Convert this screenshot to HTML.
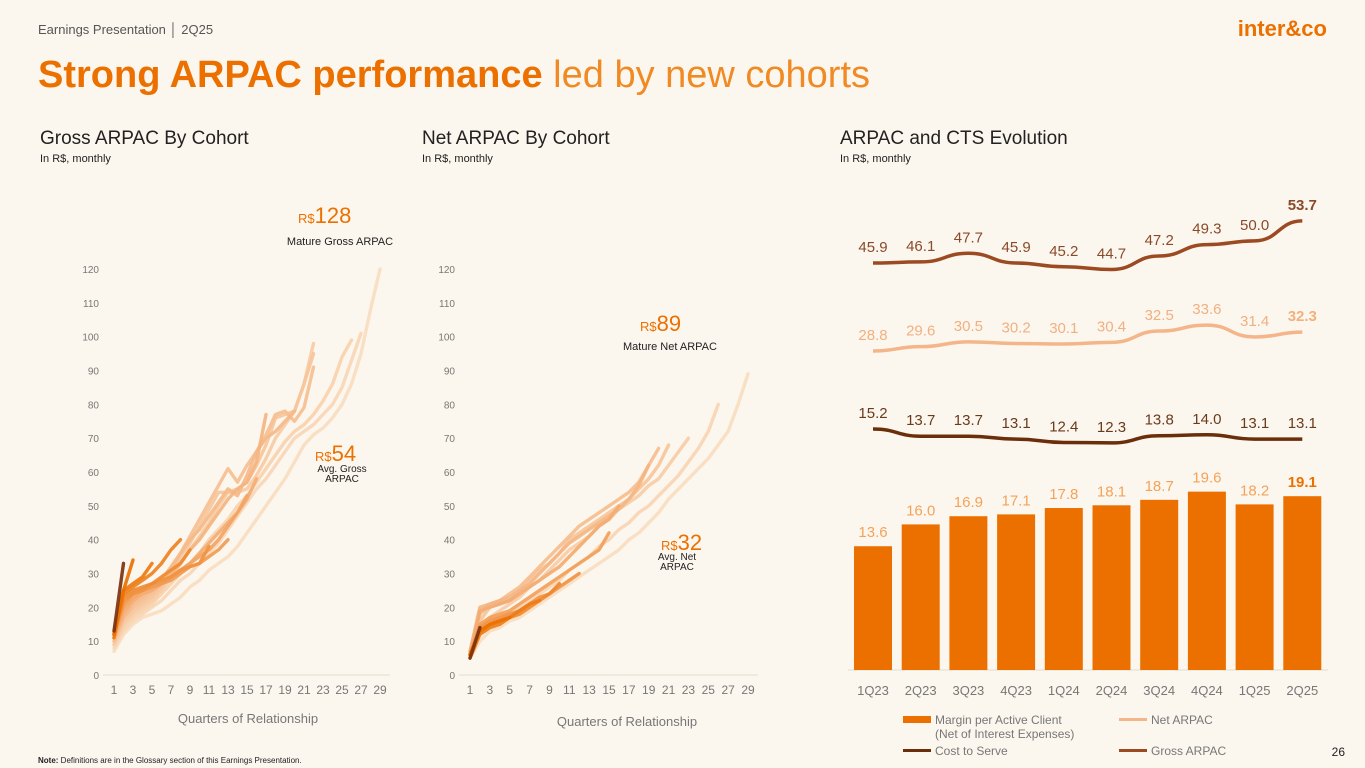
<!DOCTYPE html>
<html><head><meta charset="utf-8"><style>
body{margin:0;width:1365px;height:768px;background:#fcf7ee;overflow:hidden;font-family:"Liberation Sans",sans-serif;}
svg{position:absolute;left:0;top:0}
</style></head><body>
<svg id="s" width="1365" height="768" xmlns="http://www.w3.org/2000/svg">
<text x="38" y="34" font-size="13" fill="#555">Earnings Presentation │ 2Q25</text>
<text x="1327" y="36" font-size="22" font-weight="bold" fill="#ec7000" text-anchor="end">inter&amp;co</text>
<text x="38" y="87" font-size="38" fill="#ec7000"><tspan font-weight="bold">Strong ARPAC performance</tspan><tspan fill="#f08a24"> led by new cohorts</tspan></text>
<text x="40" y="144" font-size="19" fill="#222">Gross ARPAC By Cohort</text>
<text x="40" y="162" font-size="11" fill="#222">In R$, monthly</text>
<text x="422" y="144" font-size="19" fill="#222">Net ARPAC By Cohort</text>
<text x="422" y="162" font-size="11" fill="#222">In R$, monthly</text>
<text x="840" y="144" font-size="19" fill="#222">ARPAC and CTS Evolution</text>
<text x="840" y="162" font-size="11" fill="#222">In R$, monthly</text>
<text x="298" y="223" fill="#ec7000"><tspan font-size="13">R$</tspan><tspan font-size="22">128</tspan></text>
<text x="340" y="245" font-size="11" fill="#222" text-anchor="middle">Mature Gross ARPAC</text>
<text x="315" y="461" fill="#ec7000"><tspan font-size="13">R$</tspan><tspan font-size="22">54</tspan></text>
<text x="342" y="472" font-size="10" fill="#222" text-anchor="middle"><tspan x="342">Avg. Gross</tspan><tspan x="342" dy="10">ARPAC</tspan></text>
<text x="640" y="331" fill="#ec7000"><tspan font-size="13">R$</tspan><tspan font-size="22">89</tspan></text>
<text x="670" y="350" font-size="11" fill="#222" text-anchor="middle">Mature Net ARPAC</text>
<text x="661" y="550" fill="#ec7000"><tspan font-size="13">R$</tspan><tspan font-size="22">32</tspan></text>
<text x="677" y="560" font-size="10" fill="#222" text-anchor="middle"><tspan x="677">Avg. Net</tspan><tspan x="677" dy="10">ARPAC</tspan></text>
<text x="248" y="723" font-size="13" fill="#777" text-anchor="middle">Quarters of Relationship</text>
<text x="627" y="726" font-size="13" fill="#777" text-anchor="middle">Quarters of Relationship</text>
<text x="38" y="763" font-size="8" fill="#222"><tspan font-weight="bold">Note:</tspan> Definitions are in the Glossary section of this Earnings Presentation.</text>
<text x="1345" y="756" font-size="12" fill="#222" text-anchor="end">26</text>
<g>
<rect x="903" y="716" width="28" height="7" fill="#ec7000"/>
<text x="935" y="724" font-size="12" fill="#777"><tspan x="935">Margin per Active Client</tspan><tspan x="935" dy="14">(Net of Interest Expenses)</tspan></text>
<rect x="1119" y="718" width="28" height="3" fill="#f5b58a"/>
<text x="1151" y="724" font-size="12" fill="#777">Net ARPAC</text>
<rect x="903" y="749" width="28" height="3" fill="#6b2e0a"/>
<text x="935" y="755" font-size="12" fill="#777">Cost to Serve</text>
<rect x="1119" y="749" width="28" height="3" fill="#9c4a22"/>
<text x="1151" y="755" font-size="12" fill="#777">Gross ARPAC</text>
</g>
</svg>
<script>
const NS="http://www.w3.org/2000/svg";
const grossCohorts=[
[7,12,15,17,18,19,21,23,26,28,31,33,35,38,42,46,50,54,58,63,68,71,73,76,80,86,95,108,120],
[8,13,16,18,20,22,25,28,30,33,36,39,43,47,51,55,58,62,66,70,72,74,77,80,85,93,101],
[9,14,17,19,21,24,27,30,33,36,40,43,46,50,53,57,61,65,69,72,74,77,81,86,94,99],
[9,15,18,20,22,25,29,33,37,41,45,50,54,54,55,59,64,70,74,78,86,98],
[10,16,19,21,23,26,30,35,39,44,49,54,54,55,57,62,68,76,77,78,86,95],
[10,17,20,22,24,27,31,36,41,46,51,56,61,57,62,66,71,77,78,75,79,91],
[11,17,21,23,25,28,32,36,40,43,47,51,55,53,59,66,70,72,75,78],
[11,18,22,24,26,28,30,33,37,40,44,48,52,55,57,63,77],
[11,19,22,24,25,27,29,31,33,36,39,42,45,48,52,58],
[12,20,23,25,26,27,29,31,33,35,37,40,44,48,53],
[12,21,24,25,26,27,28,30,32,33,35,37,40],
[12,22,24,25,27,28,29,31,32,33,38],
[12,23,25,26,27,29,31,33,37],
[12,24,26,28,30,33,37,40],
[11,25,27,29,33],
[12,25,34],
[13,33]];
const netCohorts=[
[5,10,13,14,16,17,19,21,23,25,27,29,31,33,35,37,40,42,45,48,52,55,58,61,64,68,72,80,89],
[6,12,15,17,18,20,22,24,26,28,31,33,35,38,40,43,45,48,50,53,56,59,63,67,72,80],
[6,14,17,19,21,23,26,28,31,34,37,39,41,44,46,49,51,53,56,58,62,66,70],
[7,16,20,21,22,25,28,31,33,36,40,42,44,46,48,50,52,55,58,62,68],
[7,18,21,22,24,26,29,32,35,38,41,44,46,48,50,52,54,57,62,67],
[7,20,21,22,23,25,27,30,33,36,39,41,43,45,47,49,52,56,62],
[6,19,20,21,22,24,26,28,30,32,35,38,41,44,46,50],
[6,15,17,18,19,21,23,25,27,29,31,33,35,37,42],
[6,14,16,17,18,19,21,23,24,26,28,30],
[6,13,15,16,17,18,20,22,24,27],
[5,12,14,15,17,19,21,22],
[6,13,15,16,17],
[5,14]];
const yTicks=[0,10,20,30,40,50,60,70,80,90,100,110,120];
const xTicks=[1,3,5,7,9,11,13,15,17,19,21,23,25,27,29];
const quarters=["1Q23","2Q23","3Q23","4Q23","1Q24","2Q24","3Q24","4Q24","1Q25","2Q25"];
const margin=[13.6,16.0,16.9,17.1,17.8,18.1,18.7,19.6,18.2,19.1];
const grossArpac=[45.9,46.1,47.7,45.9,45.2,44.7,47.2,49.3,50.0,53.7];
const netArpac=[28.8,29.6,30.5,30.2,30.1,30.4,32.5,33.6,31.4,32.3];
const costToServe=[15.2,13.7,13.7,13.1,12.4,12.3,13.8,14.0,13.1,13.1];
const svg=document.getElementById('s');
function mk(t,a,p){const e=document.createElementNS(NS,t);for(const k in a)e.setAttribute(k,a[k]);(p||svg).appendChild(e);return e;}
const yS=v=>675-v*3.383;
function lerp(a,b,t){const h=x=>[parseInt(x.substr(1,2),16),parseInt(x.substr(3,2),16),parseInt(x.substr(5,2),16)];const A=h(a),B=h(b);return 'rgb('+A.map((c,i)=>Math.round(c+(B[i]-c)*t)).join(',')+')';}
function cohortChart(x0,x1,cohorts,name){
  const xS=q=>x0+(q-1)*(x1-x0)/28;
  const g=mk('g',{});
  
  
  const ax=mk('line',{x1:x0-11,x2:x1+10,y1:675,y2:675,stroke:'#e2dcd2','stroke-width':1},g);
  
  
  yTicks.forEach(v=>{const t=mk('text',{x:x0-15,y:yS(v)+4,'font-size':10,fill:'#777','text-anchor':'end'},g);t.textContent=v;
    
    });
  xTicks.forEach(v=>{const t=mk('text',{x:xS(v),y:694,'font-size':12,fill:'#777','text-anchor':'middle'},g);t.textContent=v;
    
    });
  const n=cohorts.length;
  cohorts.forEach((c,i)=>{
    let col;const t=i/(n-2);
    if(i===n-1)col='#7a3210';else if(t<0.5)col=lerp('#f9dcbf','#f4b17c',t*2);else col=lerp('#f4b17c','#ec7000',(t-0.5)*2);
    const d=c.map((v,j)=>(j?'L':'M')+xS(j+1).toFixed(1)+','+yS(v).toFixed(1)).join('');
    const p=mk('path',{d:d,fill:'none',stroke:col,'stroke-width':3.4,'stroke-linejoin':'round','stroke-linecap':'round',opacity:0.92},g);
    
    
  });
}
cohortChart(114,380,grossCohorts,'gross-cohort-chart');
cohortChart(470,748,netCohorts,'net-cohort-chart');
const xc=i=>873+i*47.7;
const barY=v=>670-v*9.1;
const rg=mk('g',{});


const bl=mk('line',{x1:848,x2:1328,y1:670,y2:670,stroke:'#e2dcd2'},rg);


quarters.forEach((q,i)=>{const t=mk('text',{x:xc(i),y:695,'font-size':13,fill:'#777','text-anchor':'middle'},rg);t.textContent=q;
  
  });
margin.forEach((v,i)=>{
  const r=mk('rect',{x:xc(i)-19,y:barY(v),width:38,height:v*9.1,fill:'#ec7000'},rg);
  
  
  const t=mk('text',{x:xc(i),y:barY(v)-9,'font-size':15,fill:i===9?'#ec7000':'#f4a25a','font-weight':i===9?'bold':'normal','text-anchor':'middle'},rg);
  t.textContent=v.toFixed(1);
  
  
});
function series(vals,base,baseY,scale,col,lab,name,boldLast){
  const y=v=>baseY-(v-base)*scale;
  let d='M'+xc(0)+','+y(vals[0]);
  for(let i=1;i<vals.length;i++){const xa=xc(i-1),xb=xc(i),m=(xb-xa)/2;d+='C'+(xa+m)+','+y(vals[i-1])+' '+(xb-m)+','+y(vals[i])+' '+xb+','+y(vals[i]);}
  const p=mk('path',{d:d,fill:'none',stroke:col,'stroke-width':3.5},rg);
  
  
  vals.forEach((v,i)=>{const t=mk('text',{x:xc(i),y:y(v)-11,'font-size':15,fill:lab,'text-anchor':'middle','font-weight':(boldLast&&i===9)?'bold':'normal'},rg);t.textContent=v.toFixed(1);
    
    });
}
series(grossArpac,45.9,263,5.4,'#9c4a22','#8a4a2a','gross-arpac',true);
series(netArpac,28.8,351,5.4,'#f5b58a','#f2b080','net-arpac',true);
series(costToServe,15.2,429,4.8,'#6b2e0a','#6b3a1a','cost-to-serve',false);
</script>
</body></html>
